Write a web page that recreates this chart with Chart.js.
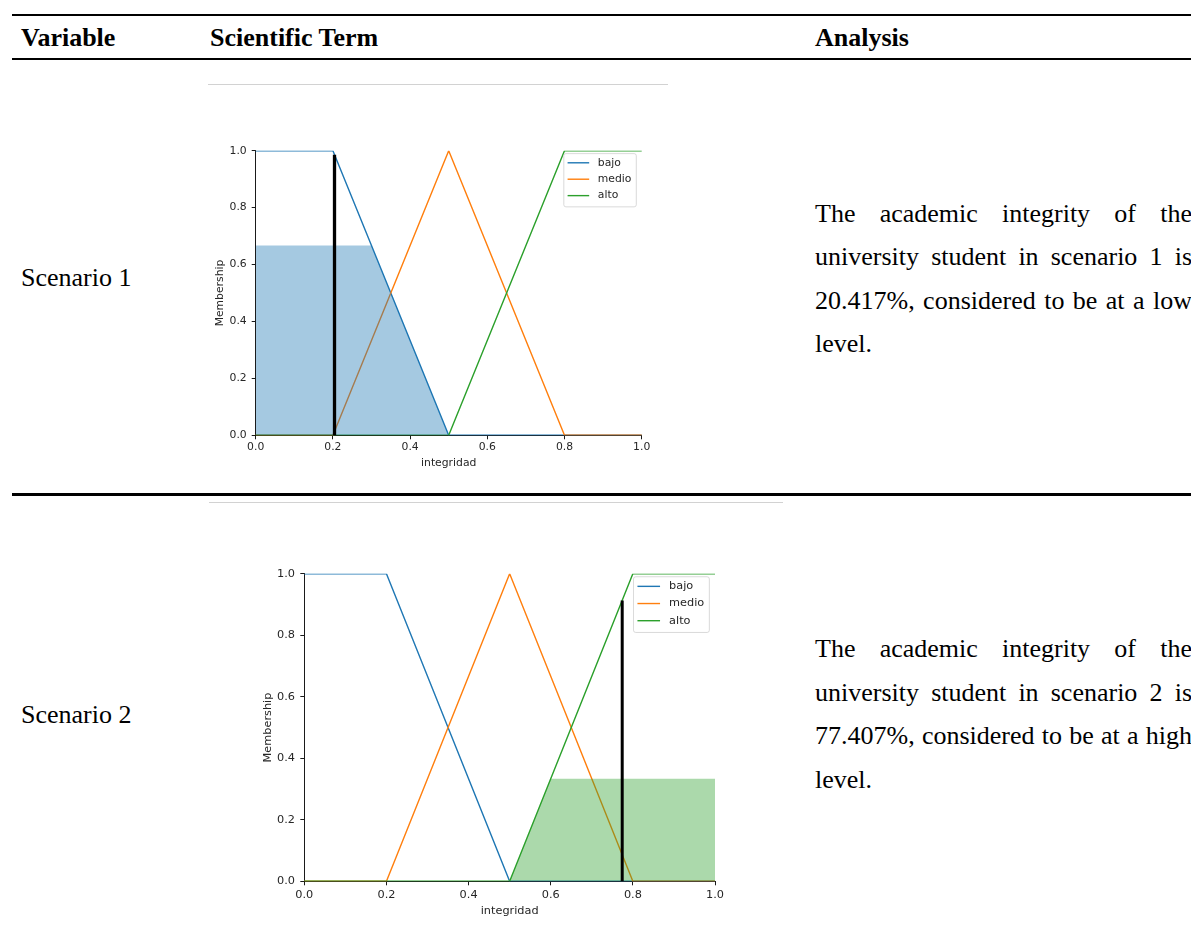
<!DOCTYPE html>
<html>
<head>
<meta charset="utf-8">
<script src="https://cdn.jsdelivr.net/npm/chart.js@4/dist/chart.umd.min.js"></script>
<style>
html,body{margin:0;padding:0;background:#fff;}
body{width:1191px;height:926px;overflow:hidden;position:relative;font-family:"Liberation Serif","Times New Roman",serif;color:#000;}
.rule{position:absolute;left:12px;width:1179px;background:#000;}
.grey{position:absolute;height:1.5px;background:#d2d2d2;}
.t{position:absolute;font-size:26px;line-height:43.5px;white-space:nowrap;}
.b{font-weight:bold;}
.ana{position:absolute;left:815px;width:377px;font-size:26px;line-height:43.5px;}
.ana div{text-align:justify;text-align-last:justify;}
.ana div.last{text-align:left;text-align-last:left;}
canvas{position:absolute;}
</style>
</head>
<body>
<div class="rule" style="top:14px;height:2.2px;"></div>
<div class="t b" style="left:21px;top:16.2px;">Variable</div>
<div class="t b" style="left:210px;top:16.2px;">Scientific Term</div>
<div class="t b" style="left:815px;top:16.2px;">Analysis</div>
<div class="rule" style="top:57.6px;height:2.2px;"></div>

<div class="grey" style="left:208px;top:83.5px;width:460px;"></div>
<div class="t" style="left:21px;top:256.2px;">Scenario 1</div>
<canvas id="c1" width="460" height="380" style="left:208px;top:90px;"></canvas>
<div class="ana" style="top:191.5px;">
  <div>The academic integrity of the</div>
  <div>university student in scenario 1 is</div>
  <div>20.417%, considered to be at a low</div>
  <div class="last">level.</div>
</div>

<div class="rule" style="top:493px;height:2.8px;"></div>

<div class="grey" style="left:209px;top:501.5px;width:574px;"></div>
<div class="t" style="left:21px;top:693px;">Scenario 2</div>
<canvas id="c2" width="530" height="416" style="left:258px;top:510px;"></canvas>
<div class="ana" style="top:627px;">
  <div>The academic integrity of the</div>
  <div>university student in scenario 2 is</div>
  <div>77.407%, considered to be at a high</div>
  <div class="last">level.</div>
</div>

<script>
// ---- data ----
const terms = ['bajo', 'medio', 'alto'];
const termColors = ['#1f77b4', '#ff7f0e', '#2ca02c'];
const tickValues = [0, 0.2, 0.4, 0.6, 0.8, 1.0];
const tickLabels = ['0.0', '0.2', '0.4', '0.6', '0.8', '1.0'];
const xTitle = 'integridad';
const yTitle = 'Membership';

const bajoX  = [0, 0.2, 0.5, 1.0];
const bajoY  = [1, 1, 0, 0];
const medioX = [0, 0.2, 0.5, 0.8, 1.0];
const medioY = [0, 0, 1, 0, 0];
const altoX  = [0, 0.5, 0.8, 1.0];
const altoY  = [0, 0, 1, 1];

// Scenario 1 (activation of "bajo")
const s1FillX  = [0, 0.3, 0.5, 1.0];
const s1FillY  = [0.667, 0.667, 0, 0];
const s1CrispX = [0.20417, 0.20417];
const s1CrispY = [0, 0.986];

// Scenario 2 (activation of "alto")
const s2FillX  = [0, 0.5, 0.6, 1.0];
const s2FillY  = [0, 0, 0.333, 0.333];
const s2CrispX = [0.77407, 0.77407];
const s2CrispY = [0, 0.913];

// ---- helpers ----
const pts = (xs, ys) => xs.map((x, i) => ({x: x, y: ys[i]}));
const textColor = '#262626';

const boxLegend = {
  id: 'boxLegend',
  afterDraw(chart, args, opts) {
    const ctx = chart.ctx, ca = chart.chartArea, f = opts.size;
    const items = terms.map(t => chart.data.datasets.find(d => d.label === t));
    ctx.save();
    ctx.font = f + 'px "DejaVu Sans"';
    const textW = Math.max(...items.map(d => ctx.measureText(d.label).width));
    const w = f * 3.6 + textW;
    const h = f * 4.93;
    const x0 = ca.right - 0.5 * f - w;
    const y0 = ca.top + 0.27 * f;
    ctx.beginPath();
    ctx.roundRect(x0, y0, w, h, 0.2 * f);
    ctx.fillStyle = 'rgba(255,255,255,0.8)';
    ctx.fill();
    ctx.strokeStyle = 'rgba(204,204,204,0.8)';
    ctx.lineWidth = 0.9;
    ctx.stroke();
    items.forEach((d, i) => {
      const cy = y0 + 0.85 * f + i * 1.52 * f;
      ctx.strokeStyle = d.borderColor;
      ctx.lineWidth = d.borderWidth;
      ctx.beginPath();
      ctx.moveTo(x0 + 0.35 * f, cy);
      ctx.lineTo(x0 + 2.35 * f, cy);
      ctx.stroke();
      ctx.fillStyle = textColor;
      ctx.textBaseline = 'middle';
      ctx.textAlign = 'left';
      ctx.fillText(d.label, x0 + 3.15 * f, cy);
    });
    ctx.restore();
  }
};

function buildChart(id, p) {
  const f = p.font;
  const fontObj = {family: 'DejaVu Sans', size: f};
  const line = (label, xs, ys, color, order) => ({
    label: label, data: pts(xs, ys), borderColor: color, backgroundColor: color,
    borderWidth: 1.4, pointRadius: 0, fill: false, tension: 0, order: order,
    borderCapStyle: 'square'
  });
  const datasets = [
    {label: 'crisp', data: pts(p.crispX, p.crispY), borderColor: '#000', borderWidth: p.crispW,
     borderCapStyle: 'butt', pointRadius: 0, fill: false, order: 0},
    {label: 'activation', data: pts(p.fillX, p.fillY), borderColor: 'rgba(0,0,0,0)', borderWidth: 0,
     backgroundColor: p.fillColor, fill: 'origin', pointRadius: 0, order: 1},
    line(terms[2], altoX, altoY, termColors[2], 2),
    line(terms[1], medioX, medioY, termColors[1], 3),
    line(terms[0], bajoX, bajoY, termColors[0], 4)
  ];
  const gridOpt = {display: true, drawOnChartArea: false, drawTicks: true, tickLength: 4, tickColor: '#000', tickWidth: 0.9};
  return new Chart(document.getElementById(id), {
    type: 'line',
    data: {datasets: datasets},
    plugins: [boxLegend],
    options: {
      responsive: false, maintainAspectRatio: false, animation: false, devicePixelRatio: 1,
      layout: {padding: {left: 0, top: p.padTop, right: p.padRight, bottom: 0}},
      plugins: {legend: {display: false}, tooltip: {enabled: false}, boxLegend: {size: f}},
      scales: {
        x: {
          type: 'linear', min: 0, max: 1,
          afterBuildTicks: s => { s.ticks = tickValues.map(v => ({value: v})); },
          afterFit: s => { s.height = p.xH; },
          ticks: {autoSkip: false, maxRotation: 0, padding: p.xPad, color: textColor, font: fontObj,
                  callback: (v, i) => tickLabels[i]},
          grid: gridOpt,
          border: {display: true, color: '#000', width: 0.9},
          title: {display: true, text: xTitle, color: textColor, font: fontObj, padding: {top: 0, bottom: p.xtPad}}
        },
        y: {
          type: 'linear', min: 0, max: 1,
          afterBuildTicks: s => { s.ticks = tickValues.map(v => ({value: v})); },
          afterFit: s => { s.width = p.yW; },
          ticks: {autoSkip: false, padding: p.yPad, color: textColor, font: fontObj,
                  callback: (v, i) => tickLabels[i]},
          grid: gridOpt,
          border: {display: true, color: '#000', width: 0.9},
          title: {display: true, text: yTitle, color: textColor, font: fontObj, padding: {top: p.ytPad, bottom: 0}}
        }
      }
    }
  });
}

buildChart('c1', {
  font: 10.8, padTop: 60.7, padRight: 26.3, yW: 47.7, xH: 34.7,
  xPad: 1.5, yPad: 5, xtPad: 0.8, ytPad: 6.2,
  fillX: s1FillX, fillY: s1FillY, crispX: s1CrispX, crispY: s1CrispY,
  fillColor: 'rgba(31,119,180,0.4)', crispW: 3.3
});
buildChart('c2', {
  font: 11.3, padTop: 63.7, padRight: 73, yW: 46.3, xH: 44.7,
  xPad: 2.9, yPad: 5.3, xtPad: 8.5, ytPad: 3.5,
  fillX: s2FillX, fillY: s2FillY, crispX: s2CrispX, crispY: s2CrispY,
  fillColor: 'rgba(44,160,44,0.4)', crispW: 3.0
});
</script>
</body>
</html>
